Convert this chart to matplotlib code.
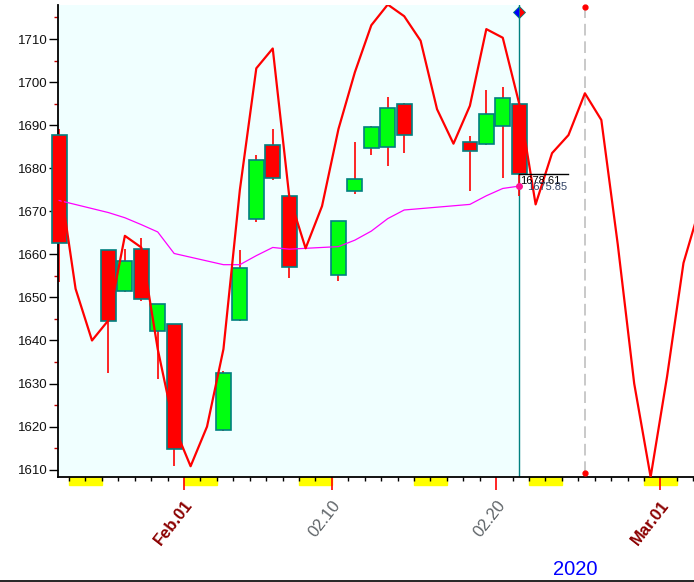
import numpy as np
import matplotlib
matplotlib.use("Agg")
import matplotlib.pyplot as plt
import matplotlib.dates as mdates
import matplotlib.transforms as mtransforms
from matplotlib.patches import Rectangle
from matplotlib.lines import Line2D

plt.rcParams["font.family"] = ["Liberation Sans", "DejaVu Sans"]

# daily candles (trading days)
candle_dates = ["2020-01-24", "2020-01-27", "2020-01-28", "2020-01-29", "2020-01-30",
                "2020-01-31", "2020-02-03", "2020-02-04", "2020-02-05", "2020-02-06",
                "2020-02-07", "2020-02-10", "2020-02-11", "2020-02-12", "2020-02-13",
                "2020-02-14", "2020-02-18", "2020-02-19", "2020-02-20", "2020-02-21"]
opens = [1687.8, 1661.1, 1651.5, 1661.3, 1642.1, 1643.9, 1619.2, 1644.8, 1668.3, 1685.5,
         1673.6, 1655.3, 1674.8, 1684.8, 1685.0, 1695.0, 1686.2, 1685.7, 1689.7, 1694.8]
highs = [1689.0, 1661.1, 1661.2, 1663.7, 1648.5, 1643.9, 1633.0, 1660.9, 1683.0, 1689.1,
         1674.0, 1667.8, 1686.1, 1689.8, 1696.5, 1695.2, 1687.4, 1698.1, 1698.8, 1694.8]
lows = [1653.5, 1632.5, 1651.2, 1649.1, 1631.1, 1610.8, 1618.9, 1644.5, 1667.5, 1677.3,
        1654.5, 1653.8, 1674.0, 1683.1, 1680.5, 1683.5, 1674.7, 1685.4, 1677.7, 1673.6]
closes = [1662.7, 1644.6, 1658.5, 1649.7, 1648.5, 1614.7, 1632.5, 1656.9, 1682.0, 1677.8,
          1657.1, 1667.8, 1677.6, 1689.5, 1693.9, 1687.8, 1683.9, 1692.7, 1696.2, 1678.61]
ma_values = [1672.5, 1669.7, 1668.5, 1666.9, 1665.2, 1660.2, 1657.6, 1657.6, 1659.7, 1661.6,
             1661.2, 1661.8, 1663.3, 1665.4, 1668.3, 1670.3, 1671.6, 1673.6, 1675.3, 1675.85]

# forecast line, one value per calendar day from Jan 24 to Mar 3
forecast_start = "2020-01-24"
forecast_values = [1678.0, 1652.0, 1640.0, 1644.7, 1664.3, 1661.6, 1638.0, 1620.0,
                   1610.8, 1620.0, 1638.0, 1675.0, 1703.2, 1707.8, 1673.6, 1661.4,
                   1671.2, 1689.1, 1702.3, 1713.2, 1718.0, 1715.3, 1709.6, 1693.7,
                   1685.7, 1694.5, 1712.3, 1710.3, 1695.0, 1671.6, 1683.5, 1687.7,
                   1697.4, 1691.2, 1662.3, 1630.0, 1608.3, 1631.6, 1658.0, 1671.0]

major_dates = ["2020-02-01", "2020-02-10", "2020-02-20", "2020-03-01"]
major_labels = ["Feb.01", "02.10", "02.20", "Mar.01"]

shift = 0.4
x = mdates.date2num(np.array(candle_dates, dtype="datetime64[D]")) + shift
f0 = mdates.date2num(np.datetime64(forecast_start))
fx = f0 + np.arange(len(forecast_values)) + shift
feb1 = mdates.date2num(np.datetime64("2020-02-01"))
x_lo, x_hi = feb1 - 7.67, feb1 + 31.04

fig = plt.figure(figsize=(6.94, 5.82), dpi=100)
ax = fig.add_axes([58 / 694, 105 / 582, 636 / 694, 472 / 582])
ax.set_facecolor("white")
ax.set_xlim(x_lo, x_hi)
ax.set_ylim(1608.3, 1717.9)

ax.axvspan(x_lo, x[-1], color="#F0FFFF", zorder=0)
ax.axvline(x[-1], color="#008080", lw=1.0, zorder=1)

# candles
o = np.array(opens)
c = np.array(closes)
ax.vlines(x, lows, highs, color="red", lw=1.2, zorder=2, clip_on=False)
body_col = ["#00FF10" if cc > oo else "red" for oo, cc in zip(o, c)]
bars = ax.bar(x, np.abs(c - o), bottom=np.minimum(o, c), width=0.9, color=body_col,
              edgecolor="#008080", linewidth=1.2, zorder=3)
for b in bars:
    b.set_clip_on(False)

ax.plot(x, ma_values, color="#FF00FF", lw=0.9, zorder=4)
ax.plot(fx, forecast_values, color="red", lw=1.6, zorder=5)

# last close marker
ax.plot([x[-1], x[-1] + 3], [closes[-1], closes[-1]], color="black", lw=1.0, zorder=6)
ax.annotate(f"{closes[-1]:.2f}", (x[-1], closes[-1]), xytext=(1, -5),
            textcoords="offset points", fontsize=8, color="black", va="center", zorder=7)
ax.annotate(f"{ma_values[-1]:.2f}", (x[-1], closes[-1]), xytext=(5.5, -9),
            textcoords="offset points", fontsize=8, color="#334466", va="center", zorder=7)
ax.plot(x[-1], ma_values[-1], "o", color="#FF1493", ms=4, zorder=8)

# cursor diamond on top
ax.plot(x[-1], 1716.3, marker="D", ms=6.5, fillstyle="left", markerfacecolor="blue",
        markerfacecoloralt="red", markeredgecolor="#008080", markeredgewidth=0.6,
        zorder=9, clip_on=False)

# dashed marker line
xd = x[-1] + 4
ax.plot([xd, xd], [1609.3, 1717.4], color="#C0C0C0", lw=1.2, dashes=(7, 3.5), zorder=1)
ax.plot([xd, xd], [1609.3, 1717.4], "o", color="red", ms=3.5, zorder=6, clip_on=False)

# axes styling
for s in ["top", "right"]:
    ax.spines[s].set_visible(False)
for s in ["left", "bottom"]:
    ax.spines[s].set_linewidth(1.3)
    ax.spines[s].set_color("black")

major_x = mdates.date2num(np.array(major_dates, dtype="datetime64[D]"))
ax.set_xticks(major_x)
ax.set_xticklabels([])
ax.set_xticks(np.arange(np.ceil(x_lo), x_hi), minor=True)
ax.tick_params(axis="x", which="major", length=9, width=1.2, color="red")
ax.tick_params(axis="x", which="minor", length=3, width=1.0, color="black")

ax.set_yticks(np.arange(1610, 1711, 10))
ax.set_yticks(np.arange(1610, 1716, 5), minor=True)
ax.tick_params(axis="y", which="major", length=6.5, width=1.0, color="black",
               labelsize=9.5, pad=1, labelcolor="#111111")
ax.tick_params(axis="y", which="minor", length=3, width=1.0, color="#C00000")

# weekend bars below the axis
wk = mdates.date2num(np.datetime64("2020-01-20")) + np.arange(45)
bt = mtransforms.blended_transform_factory(ax.transData, ax.transAxes)
for d in wk:
    wd = (int(d) + 3) % 7
    if wd == 5 and x_lo < d < x_hi:
        ax.add_patch(Rectangle((d, -8 / 472), 2, 8 / 472, transform=bt, color="#FFFF00",
                               clip_on=False, zorder=1))

lt = bt + mtransforms.ScaledTranslation(6 / 100, -25 / 100, fig.dpi_scale_trans)
for mx, lab in zip(major_x, major_labels):
    if lab[0].isalpha():
        col, wt = "#8B0000", "bold"
    else:
        col, wt = "#5F6468", "normal"
    ax.text(mx, 0, lab, transform=lt, rotation=52, rotation_mode="anchor",
            ha="right", va="center", fontsize=12, color=col, fontweight=wt)

fig.text(575.5 / 694, 1 - 569.7 / 582, "2020", color="blue", fontsize=14.5,
         ha="center", va="center")
fig.add_artist(Line2D([0, 1], [1.5 / 582, 1.5 / 582], transform=fig.transFigure,
                      color="black", lw=1.2))

fig.savefig("out.png", dpi=100)
